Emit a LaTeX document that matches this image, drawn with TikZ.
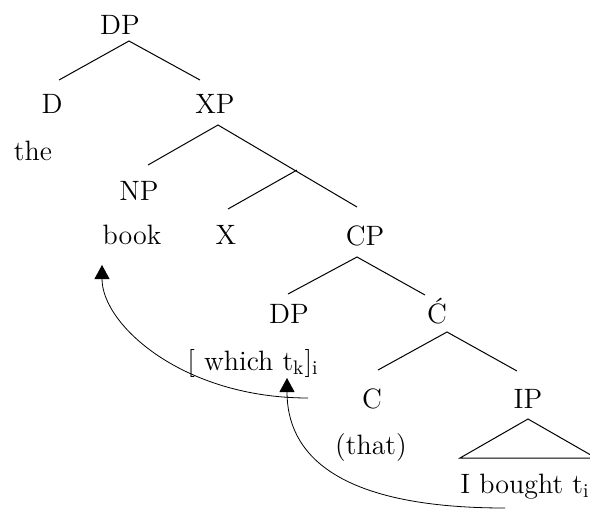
\documentclass[tikz,border=0pt]{standalone}
\usepackage{tikz}
\usetikzlibrary{calc, arrows.meta}

\begin{document}
\begin{tikzpicture}[x=0.5pt, y=-0.5pt, font=\fontsize{14}{17}\selectfont]
      % Styles
      \tikzset{cat/.style={inner sep=0pt, anchor=base}}
      \tikzset{branch/.style={line width=0.5pt}}
      \tikzset{move/.style={line width=0.4pt, -{Triangle[length=7pt, width=7.5pt]}}}
      \useasboundingbox (0,0) rectangle (590,510);

      % --- Labels of the tree ---
      \node[cat] (dp) at (120,34) {DP};
      \node[cat] (d) at (52,113) {D};
      \node[cat] (xp) at (215,113) {XP};
      \node[cat] (the) at (33,160) {the};
      \node[cat] (np) at (139,200) {NP};
      \node[cat] (book) at (132,244) {book};
      \node[cat] (x) at (226,244) {X};
      \node[cat] (cp) at (365,245) {CP};
      \node[cat] (dp_spec) at (289,323) {DP};
      \node[cat] (cbar) at (437,323) {\'C};
      \node[cat] (which) at (253,370) {[ which t\textsubscript{k}]\textsubscript{i}};
      \node[cat] (c) at (372,408) {C};
      \node[cat] (ip) at (528,408) {IP};
      \node[cat] (that) at (371,454) {(that)};
      \node[cat, anchor=base west] (bought) at (460,493) {I bought t\textsubscript{i}};

      % --- Branch points ---
      \coordinate (dp_a) at (129,41);
      \coordinate (d_a) at (59,80);
      \coordinate (xp_b) at (200,80);
      \coordinate (xp_a) at (218,125);
      \coordinate (np_a) at (148,165);
      \coordinate (cp_b) at (357,207);
      \coordinate (x_a) at (228,209);
      \coordinate (x_b) at (297,170);
      \coordinate (cp_a) at (357,257);
      \coordinate (spec_a) at (288,294);
      \coordinate (cbar_b) at (425,295);
      \coordinate (cbar_a) at (447,332);
      \coordinate (c_a) at (378,370);
      \coordinate (ip_b) at (517,371);
      \coordinate (tri_a) at (528,419);
      \coordinate (tri_l) at (460,458);
      \coordinate (tri_r) at (596,458);

      % --- Branches ---
      \draw[branch] (d_a) -- (dp_a) -- (xp_b);
      \draw[branch] (np_a) -- (xp_a) -- (cp_b);
      \draw[branch] (x_a) -- (x_b);
      \draw[branch] (spec_a) -- (cp_a) -- (cbar_b);
      \draw[branch] (c_a) -- (cbar_a) -- (ip_b);
      \draw[branch] (tri_a) -- (tri_l) -- (tri_r) -- cycle;

      % --- Movement arrows ---
      \coordinate (trace_k) at (308,398);
      \coordinate (land_k) at (102,265);
      \coordinate (trace_i) at (505,508);
      \coordinate (land_i) at (287,378);
      \draw[move] (trace_k) .. controls +(-125,0) and +(0,60) .. (land_k);
      \draw[move] (trace_i) .. controls +(-170,0) and +(0,75) .. (land_i);

    \end{tikzpicture}
\end{document}
